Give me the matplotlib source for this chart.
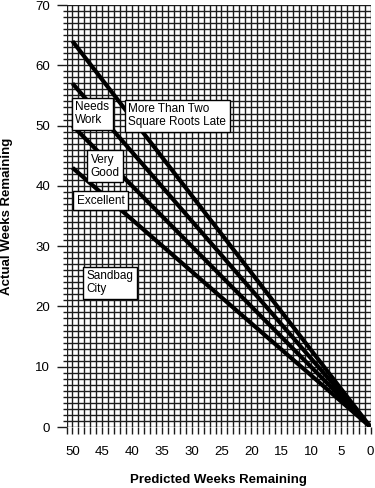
import numpy as np
import matplotlib
matplotlib.use("Agg")
import matplotlib.pyplot as plt
from matplotlib.ticker import MultipleLocator

plt.rcParams['font.family'] = ['Liberation Sans', 'DejaVu Sans']

# ── Data ────────────────────────────────────────────────────
predicted = [50, 0]
line_two_roots = [64, 0]    # more than two square roots late
line_one_root = [57, 0]     # needs work
line_on_time = [50, 0]      # very good
line_minus_root = [43, 0]   # excellent / sandbag city

x_ticks = [50, 45, 40, 35, 30, 25, 20, 15, 10, 5, 0]
y_ticks = [0, 10, 20, 30, 40, 50, 60, 70]

region_labels = ["Needs\nWork", "More Than Two\nSquare Roots Late",
                 "Very\nGood", "Excellent", "Sandbag\nCity"]
label_x = [49.5, 40.6, 46.95, 49.3, 47.65]
label_y = [54.0, 53.7, 45.3, 38.5, 26.0]

# ── Figure ─────────────────────────────────────────────────
fig = plt.figure(figsize=(3.75, 4.88), dpi=100)
ax = fig.add_axes([66.5 / 375, 1 - 427 / 488, 304 / 375, 422 / 488])

ax.set_xlim(51, 0)
ax.set_ylim(0, 70)

ax.set_xticks(x_ticks)
ax.set_yticks(y_ticks)
ax.xaxis.set_minor_locator(MultipleLocator(1))
ax.yaxis.set_minor_locator(MultipleLocator(1))

grid_col = '#1c1c1c'
ax.grid(which='both', color=grid_col, linewidth=1.0, zorder=1)
ax.set_axisbelow(True)
for s in ax.spines.values():
    s.set_visible(False)

ax.tick_params(axis='x', which='both', length=5, width=1.0, color=grid_col,
               labelsize=9.5, pad=8.5)
ax.tick_params(axis='y', which='major', length=7.2, width=1.0, color=grid_col,
               labelsize=9.5, pad=4.6)
ax.tick_params(axis='y', which='minor', length=2.9, width=1.0, color=grid_col)

# boundary lines
for ys in [line_two_roots, line_one_root, line_on_time, line_minus_root]:
    ax.plot(predicted, ys, color='black', linewidth=3, solid_capstyle='butt',
            zorder=3)

# region labels
for txt, lx, ly in zip(region_labels, label_x, label_y):
    ax.text(lx, ly, txt, ha='left', va='top', fontsize=8.5, zorder=5,
            linespacing=1.1,
            bbox=dict(boxstyle='square,pad=0.3', facecolor='white',
                      edgecolor='black', linewidth=1))

fig.text(218.5 / 375, 1 - 480 / 488, "Predicted Weeks Remaining",
         ha='center', va='center', fontsize=9.5, fontweight='bold')
fig.text(7.5 / 375, 1 - 216 / 488, "Actual Weeks Remaining", rotation=90,
         ha='center', va='center', fontsize=9.5, fontweight='bold')

fig.savefig("out.png", dpi=100)
